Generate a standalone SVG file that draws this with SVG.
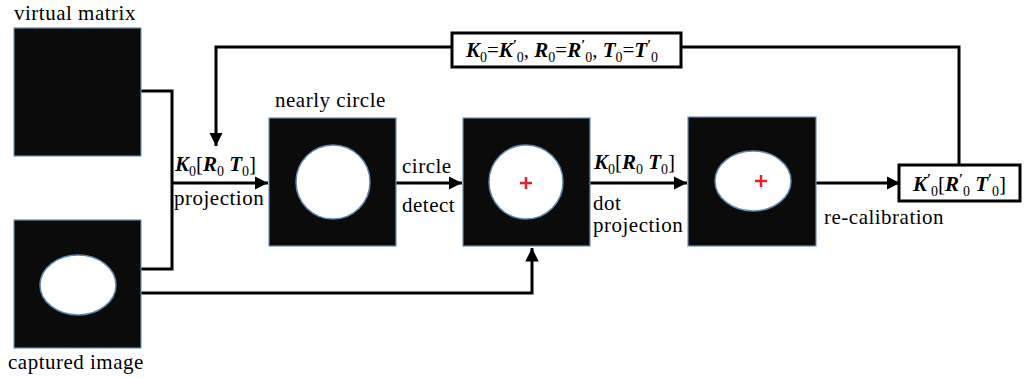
<svg xmlns="http://www.w3.org/2000/svg" width="1024" height="378" viewBox="0 0 1024 378">
<style>
.img{fill:#0b0b0b;stroke:#6a8fb5;stroke-width:1.2}
.hole{fill:#fff;stroke:#5f88b0;stroke-width:1.5}
.ln{fill:none;stroke:#000;stroke-width:3}
.box{fill:#fff;stroke:#000;stroke-width:3}
.t{font-size:21px;letter-spacing:0.5px;fill:#000}
.m{font-size:21px;fill:#000}
.bi{font-weight:bold;font-style:italic}
.sub{font-size:14px;font-style:normal;font-weight:normal}
.pr{font-size:14px;font-weight:bold}
.cross{stroke:#e8202a;stroke-width:2.5}
</style>
<defs>
<marker id="ah" viewBox="0 0 10 10" refX="10" refY="5" markerWidth="4.5" markerHeight="4.5" markerUnits="strokeWidth" orient="auto">
<path d="M0,0 L10,5 L0,10 z" fill="#000"/>
</marker>
</defs>

<g id="connectors">
<polyline class="ln" points="141,91 172,91 172,269 141,269"/>
<line class="ln" x1="172" y1="183" x2="268" y2="183" marker-end="url(#ah)"/>
<line class="ln" x1="396" y1="183" x2="462" y2="183" marker-end="url(#ah)"/>
<line class="ln" x1="590" y1="183" x2="687" y2="183" marker-end="url(#ah)"/>
<line class="ln" x1="816" y1="183" x2="900" y2="183" marker-end="url(#ah)"/>
<polyline class="ln" points="141,293 532,293 532,248" marker-end="url(#ah)"/>
<polyline class="ln" points="959,164 959,47 681,47"/>
<polyline class="ln" points="452,47 216,47 216,146" marker-end="url(#ah)"/>
</g>

<g font-family="'Liberation Serif','DejaVu Serif','Noto Serif',serif">
<g id="virtual-matrix">
<text class="t" x="14" y="20">virtual matrix</text>
<rect class="img" x="14" y="28" width="127" height="128"/>
</g>

<g id="captured-image">
<rect class="img" x="14" y="220" width="127" height="128"/>
<ellipse class="hole" cx="78" cy="285" rx="38" ry="30"/>
<text class="t" x="8" y="369">captured image</text>
</g>

<g id="nearly-circle">
<text class="t" x="275" y="107">nearly circle</text>
<rect class="img" x="269" y="118" width="127" height="128"/>
<circle class="hole" cx="333" cy="182" r="37"/>
</g>

<g id="detected-circle">
<rect class="img" x="463" y="118" width="127" height="128"/>
<circle class="hole" cx="526" cy="182" r="37"/>
<path class="cross" d="M520,183 H532 M526,177 V189"/>
</g>

<g id="dot-projected">
<rect class="img" x="688" y="117" width="128" height="129"/>
<ellipse class="hole" cx="753" cy="181" rx="38" ry="30"/>
<path class="cross" d="M755,181 H767 M761,175 V187"/>
</g>

<g id="param-box">
<rect class="box" x="899" y="165" width="121" height="36"/>
<text class="m" x="913" y="191"><tspan class="bi">K</tspan><tspan class="pr" dy="-7">′</tspan><tspan class="sub" dy="12">0</tspan><tspan dy="-5">[</tspan><tspan class="bi">R</tspan><tspan class="pr" dy="-7">′</tspan><tspan class="sub" dy="12">0</tspan><tspan dy="-5"> </tspan><tspan class="bi">T</tspan><tspan class="pr" dy="-7">′</tspan><tspan class="sub" dy="12">0</tspan><tspan dy="-5">]</tspan></text>
</g>

<g id="update-box">
<rect class="box" x="452" y="33" width="229" height="34"/>
<text class="m" x="466" y="57"><tspan class="bi">K</tspan><tspan class="sub" dy="5">0</tspan><tspan dy="-5">=</tspan><tspan class="bi">K</tspan><tspan class="pr" dy="-7">′</tspan><tspan class="sub" dy="12">0</tspan><tspan dy="-5">, </tspan><tspan class="bi">R</tspan><tspan class="sub" dy="5">0</tspan><tspan dy="-5">=</tspan><tspan class="bi">R</tspan><tspan class="pr" dy="-7">′</tspan><tspan class="sub" dy="12">0</tspan><tspan dy="-5">, </tspan><tspan class="bi">T</tspan><tspan class="sub" dy="5">0</tspan><tspan dy="-5">=</tspan><tspan class="bi">T</tspan><tspan class="pr" dy="-7">′</tspan><tspan class="sub" dy="12">0</tspan></text>
</g>

<g id="labels">
<text class="m" x="175" y="171"><tspan class="bi">K</tspan><tspan class="sub" dy="5">0</tspan><tspan dy="-5">[</tspan><tspan class="bi">R</tspan><tspan class="sub" dy="5">0</tspan><tspan dy="-5"> </tspan><tspan class="bi">T</tspan><tspan class="sub" dy="5">0</tspan><tspan dy="-5">]</tspan></text>
<text class="t" x="174" y="205">projection</text>
<text class="t" x="402" y="173">circle</text>
<text class="t" x="402" y="212">detect</text>
<text class="m" x="594" y="169"><tspan class="bi">K</tspan><tspan class="sub" dy="5">0</tspan><tspan dy="-5">[</tspan><tspan class="bi">R</tspan><tspan class="sub" dy="5">0</tspan><tspan dy="-5"> </tspan><tspan class="bi">T</tspan><tspan class="sub" dy="5">0</tspan><tspan dy="-5">]</tspan></text>
<text class="t" x="593" y="210">dot</text>
<text class="t" x="593" y="232">projection</text>
<text class="t" x="824" y="224">re-calibration</text>
</g>
</g>
</svg>
